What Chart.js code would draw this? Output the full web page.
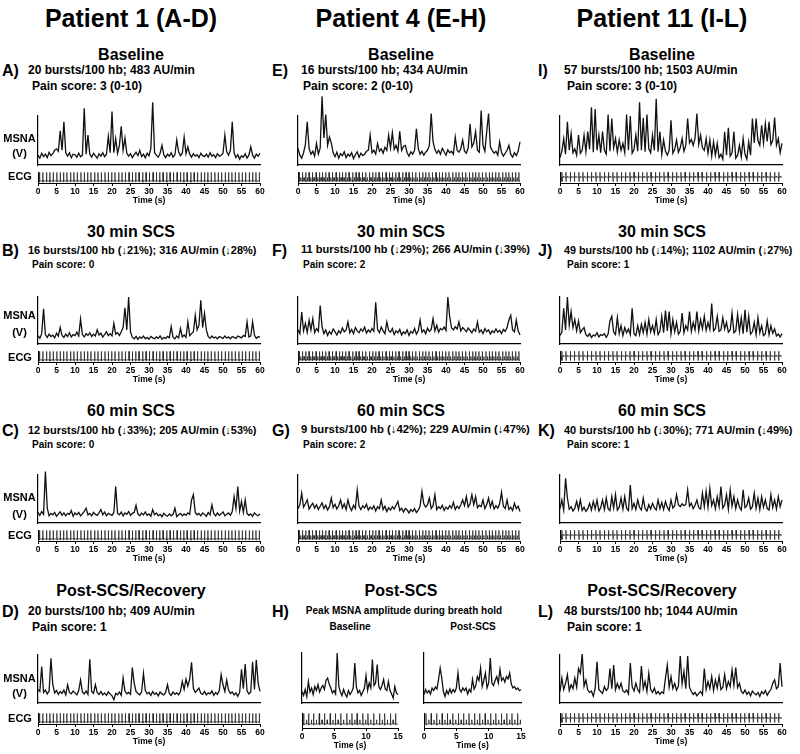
<!DOCTYPE html>
<html>
<head>
<meta charset="utf-8">
<script src="https://cdn.jsdelivr.net/npm/chart.js@4.4.1/dist/chart.umd.min.js"></script>
<style>
  body { margin: 0; background: #fff; }
  #fig { position: relative; width: 800px; height: 754px; overflow: hidden;
         font-family: "Liberation Sans", Arial, Helvetica, sans-serif; font-weight: bold; color: #000; }
  .t { position: absolute; white-space: nowrap; line-height: 1; transform: translateY(-50%); }
  .t.c { transform: translate(-50%, -50%); }
  canvas { position: absolute; }
</style>
</head>
<body>
<div id="fig"></div>
<script>
// ---- MSNA traces, one value every 0.5 s (0-60 s), 0 = x axis, 100 = top of y axis
const msnaA = [20,14,24,17,22,15,26,19,23,30, 33,28,70,30,88,25,18,25,15,22, 21,16,24,17,20,116,22,61,22,16,
  24,19,14,23,18,25,17,22,59,25, 109,25,54,24,40,79,30,55,24,18, 23,15,21,26,19,30,17,22,15,24,
  19,34,128,25,20,16,24,40,21,15, 22,18,25,16,21,51,27,19,24,57, 23,37,22,16,23,18,21,15,24,19,
  17,22,16,25,18,21,15,23,18,20, 24,61,27,20,30,88,25,15,21,12, 19,16,23,14,20,37,20,14,22,18, 24];
const msnaB = [18,12,22,75,20,14,21,16,19,13, 23,17,35,18,14,21,16,24,15,20, 18,25,17,53,20,15,22,18,24,16,
  21,17,30,19,23,15,20,26,18,22, 17,44,21,24,18,26,35,77,30,100, 26,14,11,16,10,15,12,17,11,14,
  10,16,13,11,15,12,17,10,14,12, 16,13,37,14,11,17,13,33,15,19, 14,47,18,22,26,61,30,40,93,35,
  65,30,16,12,17,13,15,11,16,14, 12,17,13,15,11,16,14,12,17,15, 13,18,16,47,15,17,47,19,12,16, 14];
const msnaC = [22,16,24,18,107,31,15,20,17,22, 14,19,23,16,21,15,20,18,26,14, 21,17,22,15,19,24,31,17,20,15,
  22,18,16,21,28,17,23,15,20,18, 16,22,76,20,17,23,15,21,18,24, 16,20,22,37,19,15,21,17,23,16,
  19,14,28,17,21,15,18,13,20,16, 14,19,15,18,31,13,17,20,15,19, 16,21,18,48,59,22,17,20,15,21,
  18,14,22,17,38,20,15,21,16,19, 23,15,18,21,16,24,55,30,76,25, 45,22,48,20,16,19,14,21,17,15, 19];
const msnaD = [28,24,76,22,27,19,25,93,38,21, 26,18,24,20,27,17,38,22,19,25, 21,17,26,48,23,19,25,18,91,24,
  20,38,22,18,24,17,21,16,23,19, 15,7,20,17,23,16,52,25,19,22, 18,74,41,24,20,17,23,62,26,19,
  22,16,24,18,21,15,23,19,17,22, 38,20,16,23,18,21,17,24,45,28, 50,35,50,85,30,22,26,31,20,18,
  24,17,21,19,25,16,22,18,26,59, 38,24,48,27,20,23,17,21,14,22, 70,30,81,25,19,23,86,28,90,41, 24];
const msnaE = [34,20,14,25,42,88,34,22,28,18, 44,22,35,140,55,103,40,57,45,25, 17,26,14,23,19,27,15,22,18,25,
  13,21,27,16,24,19,22,28,30,61, 25,30,22,44,28,33,24,36,30,61, 35,66,32,40,28,69,30,38,40,25,
  18,27,22,30,74,34,22,28,20,26, 30,40,105,47,32,24,30,22,34,27, 20,31,25,28,22,57,30,26,33,51,
  28,24,35,84,37,45,68,30,26,111, 40,28,68,105,37,30,24,28,20,47, 26,18,24,30,40,22,16,25,19,28, 47];
const msnaF = [30,22,68,28,44,25,51,30,54,24, 33,27,82,37,22,30,18,27,21,32, 26,19,28,23,34,26,30,47,24,31,
  22,35,28,24,32,27,36,23,30,25, 33,27,89,31,24,36,28,22,47,29, 25,33,20,28,24,31,19,26,22,30,
  18,27,23,33,21,28,51,25,30,22, 34,27,31,54,28,40,25,33,30,36, 29,100,58,34,30,37,32,47,28,35,
  31,26,34,29,24,32,27,47,25,30, 22,33,26,30,21,28,24,32,25,29, 22,31,27,35,51,61,30,26,51,28, 19];
const msnaG = [30,38,62,33,40,48,29,36,41,31, 38,28,35,42,30,37,27,34,52,32, 39,29,36,48,31,40,28,48,33,26,
  37,30,69,35,28,36,31,39,27,33, 29,36,25,34,30,48,28,35,24,32, 27,34,29,37,45,26,31,23,30,27,
  21,28,24,30,22,27,35,66,40,33, 38,52,30,36,59,28,34,30,37,26, 33,29,36,31,43,28,35,30,38,48,
  36,55,33,40,59,38,55,32,37,34, 48,30,38,52,33,45,29,36,31,40, 64,35,30,48,28,33,26,41,30,35, 24];
const msnaI = [15,28,54,22,88,30,64,25,33,20, 61,24,30,61,27,68,32,118,26,114, 30,61,25,68,30,22,103,28,95,35,
  54,26,51,30,44,25,103,30,100,24, 32,61,28,128,30,96,27,103,33,25, 61,30,135,27,68,22,51,28,20,30,
  91,24,32,51,26,35,54,28,40,95, 45,52,40,55,105,42,61,35,30,54, 24,51,18,47,20,44,15,22,12,68,
  20,76,18,25,68,14,20,40,16,54, 22,12,47,20,95,45,95,50,40,81, 45,84,48,88,42,50,97,40,54,25, 44];
const msnaJ = [18,25,76,30,100,40,69,35,52,28, 49,24,30,35,20,16,22,14,19,17, 24,15,20,18,22,14,21,49,59,25,
  20,56,22,39,18,35,24,32,20,76, 22,18,39,20,42,24,46,21,52,26, 39,23,52,20,27,59,24,71,28,69,
  22,52,26,46,21,27,66,24,39,30, 69,27,46,30,69,28,52,32,59,29, 46,31,86,28,33,59,27,30,56,32,
  46,25,30,66,24,28,63,27,56,22, 73,25,59,21,26,46,20,56,24,39, 18,22,49,20,39,23,32,17,21,15, 22];
const msnaK = [30,48,27,93,52,29,34,25,31,45, 28,48,26,33,24,30,41,27,45,29, 48,25,32,48,28,52,30,26,55,31,
  59,27,33,52,29,55,31,26,79,30, 41,28,48,33,27,52,30,25,38,29, 41,32,27,48,30,43,28,45,33,26,
  48,31,36,59,38,34,40,36,39,69, 35,41,30,37,48,32,29,62,34,66, 33,72,36,48,30,55,34,76,31,38,
  59,29,69,35,55,30,48,33,27,69, 32,36,52,29,34,62,31,52,28,55, 33,48,30,27,59,32,48,29,55,34, 48];
const msnaL = [24,52,28,41,59,26,38,30,52,33, 72,62,102,35,48,27,22,25,14,30, 86,28,24,20,34,26,31,72,30,79,
  28,41,30,41,25,22,27,19,83,34, 25,41,28,22,77,30,45,24,62,28, 22,31,19,24,18,23,20,52,79,33,
  55,30,41,27,35,98,40,66,30,98, 33,24,18,22,15,20,24,17,72,28, 45,30,55,26,48,31,55,28,33,59,
  30,45,34,69,37,74,32,41,24,20, 27,18,23,15,25,20,17,22,14,24, 19,26,16,23,28,41,48,30,34,83, 34];
// Patient 4 breath hold, one value every 0.25 s (0-15 s)
const msnaHBase = [23,15,27,13,43,22,30,17,33,25, 37,22,30,35,27,45,50,38,30,20, 25,18,100,33,22,15,27,18,12,25,
  17,22,30,80,32,20,25,15,22,30, 55,25,40,30,87,35,40,77,33,27, 35,47,28,25,43,25,18,10,33,20, 17];
const msnaHPost = [17,27,20,25,18,30,25,32,28,47, 70,50,23,13,25,18,28,20,27,22, 30,60,28,22,30,25,30,18,27,22,
  47,28,35,53,45,70,33,45,60,30, 40,90,40,35,45,53,40,67,45,50, 42,53,48,60,38,30,33,27,30,25, 27];

// ---- ECG R-wave times (s)
const beatsP1 = [0.4,1.3,2.3,3.2,4.1,5.1,6.0,6.9,7.8,8.8,9.7,10.6,11.6,12.5,13.4,14.3,15.3,16.2,17.1,18.1,
  19.0,19.9,20.8,21.8,22.7,23.6,24.6,25.5,26.4,27.3,28.3,29.2,30.1,31.1,32.0,32.9,33.8,34.8,35.7,36.6,
  37.6,38.5,39.4,40.3,41.3,42.2,43.1,44.1,45.0,45.9,46.8,47.8,48.7,49.6,50.6,51.5,52.4,53.3,54.3,55.2,
  56.1,57.1,58.0,58.9,59.8];
const beatsP4 = [0.3,1.2,2.1,3.0,3.9,4.9,5.8,6.6,7.5,8.4,9.3,10.3,11.2,12.0,12.9,13.8,14.8,15.7,16.5,17.4,
  18.3,19.3,20.2,21.0,21.9,22.8,23.8,24.7,25.5,26.4,27.3,28.3,29.2,30.0,30.9,31.8,32.8,33.7,34.5,35.4,
  36.3,37.3,38.2,39.0,39.9,40.8,41.8,42.7,43.5,44.4,45.3,46.3,47.2,48.0,48.9,49.8,50.8,51.7,52.5,53.4,
  54.3,55.3,56.2,57.0,57.9,58.8,59.7];
const beatsP11 = [0.5,1.6,2.8,3.9,5.1,6.2,7.4,8.5,9.7,10.8,12.0,13.1,14.3,15.4,16.6,17.7,18.9,20.0,21.2,22.3,
  23.5,24.6,25.8,26.9,28.1,29.2,30.4,31.5,32.7,33.8,35.0,36.1,37.3,38.4,39.6,40.7,41.9,43.0,44.2,45.3,
  46.5,47.6,48.8,49.9,51.1,52.2,53.4,54.5,55.7,56.8,58.0,59.1];
const beatsHBase = [0.26,1.03,1.81,2.69,3.5,4.4,5.2,6.05,7.0,7.8,8.6,9.5,10.3,11.2,12.1,12.9,13.8,14.6];
const beatsHPost = [0.3,1.1,1.95,2.8,3.6,4.45,5.3,6.1,6.95,7.8,8.6,9.45,10.3,11.1,11.95,12.8,13.6,14.45];

// ECG beat shapes: [offset from R wave (s), amplitude]
const shapeP1 = [[-0.04,0],[0,1],[0.04,-0.15],[0.08,0]];
const shapeP4 = [[-0.04,0],[0,1],[0.04,-0.1],[0.08,0],[0.4,0],[0.44,0.4],[0.48,0]];
const shapeP11 = [[-0.04,0],[0,1],[0.04,-0.9],[0.08,0],[0.35,0],[0.42,0.15],[0.5,0]];

const FONT = '"Liberation Sans", Arial, Helvetica, sans-serif';
Chart.defaults.font.family = FONT;
Chart.defaults.color = '#000';

const fig = document.getElementById('fig');

function addText(str, x, y, size, center, fitWidth) {
  const el = document.createElement('div');
  el.className = center ? 't c' : 't';
  el.style.left = x + 'px';
  el.style.top = y + 'px';
  el.style.fontSize = size + 'px';
  el.textContent = str;
  fig.appendChild(el);
  if (fitWidth) el.style.fontSize = (size * fitWidth / el.offsetWidth).toFixed(2) + 'px';
}

function makeCanvas(left, top, w, h) {
  const cv = document.createElement('canvas');
  cv.width = w; cv.height = h;
  cv.style.left = left + 'px';
  cv.style.top = top + 'px';
  fig.appendChild(cv);
  return cv;
}

const PAD_X = 8;

function addMsna(values, step, duration, x0, x1, top, base) {
  const padTop = 26;
  const cv = makeCanvas(x0 - PAD_X, top - padTop, x1 - x0 + 2 * PAD_X, base - top + padTop + 2);
  new Chart(cv, {
    type: 'line',
    data: {
      datasets: [{
        data: values.map((v, i) => ({ x: i * step, y: v })),
        borderColor: '#111', borderWidth: 1.3, pointRadius: 0, tension: 0, clip: false
      }]
    },
    options: {
      responsive: false, animation: false, events: [],
      layout: { autoPadding: false, padding: { left: PAD_X, right: PAD_X, top: padTop, bottom: 2 } },
      plugins: { legend: { display: false }, tooltip: { enabled: false } },
      scales: {
        x: { type: 'linear', min: 0, max: duration, ticks: { display: false },
             grid: { display: false, drawTicks: false }, border: { color: '#000', width: 1.2 } },
        y: { min: 0, max: 100, ticks: { display: false },
             grid: { display: false, drawTicks: false }, border: { color: '#000', width: 1.2 } }
      }
    }
  });
}

function addEcg(beats, shape, duration, x0, x1, top, h, yMin, yMax) {
  const pts = [{ x: 0, y: 0 }];
  beats.forEach(t => shape.forEach(([dt, v]) => {
    if (t + dt >= 0 && t + dt <= duration) pts.push({ x: t + dt, y: v });
  }));
  pts.push({ x: duration, y: 0 });
  const axisH = 23;
  const cv = makeCanvas(x0 - PAD_X, top - 2, x1 - x0 + 2 * PAD_X, h + axisH + 3);
  new Chart(cv, {
    type: 'line',
    data: { datasets: [{ data: pts, borderColor: '#222', borderWidth: 0.75, pointRadius: 0, tension: 0 }] },
    options: {
      responsive: false, animation: false, events: [],
      layout: { autoPadding: false, padding: { left: PAD_X, right: PAD_X, top: 2, bottom: 1 } },
      plugins: { legend: { display: false }, tooltip: { enabled: false } },
      scales: {
        x: {
          type: 'linear', min: 0, max: duration,
          ticks: { stepSize: 5, autoSkip: false, maxRotation: 0, padding: 1,
                   font: { size: 8.5, weight: 'bold' }, color: '#000' },
          grid: { display: true, drawOnChartArea: false, drawTicks: true, tickLength: 3, color: '#000' },
          border: { color: '#000', width: 1 },
          title: { display: true, text: 'Time (s)', font: { size: 8.5, weight: 'bold' },
                   padding: { top: 0, bottom: 0 }, color: '#000' },
          afterFit: s => { s.height = axisH; }
        },
        y: { min: yMin, max: yMax, ticks: { display: false },
             grid: { display: false, drawTicks: false }, border: { color: '#000', width: 1 } }
      }
    }
  });
}

// ---- layout
const cols = [
  { x0: 38, x1: 260, mid: 131, lab: 2, info: 28, pain: 32 },
  { x0: 298, x1: 520, mid: 401, lab: 272, info: 301, pain: 303 },
  { x0: 560, x1: 782, mid: 662, lab: 538, info: 564, pain: 567 }
];
const rows = [
  { head: 55, info: 70, pain: 86, top: 116, base: 165, ecgOff: 7, msna: 138, v: 153, ecg: 176 },
  { head: 232, info: 250, pain: 265, top: 297, base: 344, ecgOff: 7, msna: 315, v: 332, ecg: 357 },
  { head: 411, info: 430, pain: 445, top: 475, base: 523, ecgOff: 7, msna: 497, v: 514, ecg: 535 },
  { head: 591, info: 611, pain: 627, top: 655, base: 703, ecgOff: 10, msna: 678, v: 693, ecg: 718 }
];

const titles = ['Patient 1 (A-D)', 'Patient 4 (E-H)', 'Patient 11 (I-L)'];
const headings = [
  ['Baseline', 'Baseline', 'Baseline'],
  ['30 min SCS', '30 min SCS', '30 min SCS'],
  ['60 min SCS', '60 min SCS', '60 min SCS'],
  ['Post-SCS/Recovery', 'Post-SCS', 'Post-SCS/Recovery']
];

const ecgByCol = [
  { beats: beatsP1, shape: shapeP1, yMin: -0.25, yMax: 1.05 },
  { beats: beatsP4, shape: shapeP4, yMin: -0.25, yMax: 1.05 },
  { beats: beatsP11, shape: shapeP11, yMin: -1.2, yMax: 1.05 }
];

const panels = [
  { r: 0, c: 0, id: 'A)', info: '20 bursts/100 hb; 483 AU/min', pain: 'Pain score: 3 (0-10)', msna: msnaA },
  { r: 0, c: 1, id: 'E)', info: '16 bursts/100 hb; 434 AU/min', pain: 'Pain score: 2 (0-10)', msna: msnaE },
  { r: 0, c: 2, id: 'I)', info: '57 bursts/100 hb; 1503 AU/min', pain: 'Pain score: 3 (0-10)', msna: msnaI },
  { r: 1, c: 0, id: 'B)', info: '16 bursts/100 hb (↓21%); 316 AU/min (↓28%)', pain: 'Pain score: 0', msna: msnaB },
  { r: 1, c: 1, id: 'F)', info: '11 bursts/100 hb (↓29%); 266 AU/min (↓39%)', pain: 'Pain score: 2', msna: msnaF },
  { r: 1, c: 2, id: 'J)', info: '49 bursts/100 hb (↓14%); 1102 AU/min (↓27%)', pain: 'Pain score: 1', msna: msnaJ },
  { r: 2, c: 0, id: 'C)', info: '12 bursts/100 hb (↓33%); 205 AU/min (↓53%)', pain: 'Pain score: 0', msna: msnaC },
  { r: 2, c: 1, id: 'G)', info: '9 bursts/100 hb (↓42%); 229 AU/min (↓47%)', pain: 'Pain score: 2', msna: msnaG },
  { r: 2, c: 2, id: 'K)', info: '40 bursts/100 hb (↓30%); 771 AU/min (↓49%)', pain: 'Pain score: 1', msna: msnaK },
  { r: 3, c: 0, id: 'D)', info: '20 bursts/100 hb; 409 AU/min', pain: 'Pain score: 1', msna: msnaD },
  { r: 3, c: 2, id: 'L)', info: '48 bursts/100 hb; 1044 AU/min', pain: 'Pain score: 1', msna: msnaL }
];

titles.forEach((t, c) => addText(t, cols[c].mid, 18, 25, true));
rows.forEach((row, r) => headings[r].forEach((h, c) => addText(h, cols[c].mid, row.head, 16, true)));

panels.forEach(p => {
  const col = cols[p.c], row = rows[p.r], ecg = ecgByCol[p.c];
  const longLine = p.info.includes('(');
  addText(p.id, col.lab, row.info + 1, 16);
  addText(p.info, col.info, row.info, 12, false, longLine ? 229 : 0);
  addText(p.pain, col.pain, row.pain, longLine ? 10 : 12);
  addMsna(p.msna, 0.5, 60, col.x0, col.x1, row.top, row.base);
  addEcg(ecg.beats, ecg.shape, 60, col.x0, col.x1, row.base + row.ecgOff, 11, ecg.yMin, ecg.yMax);
});

// MSNA / ECG labels, first column only
rows.forEach(row => {
  addText('MSNA', 19.5, row.msna, 11, true);
  addText('(V)', 19.5, row.v, 11, true);
  addText('ECG', 20, row.ecg, 11, true);
});

// Panel H: breath hold, baseline vs post-SCS
addText('H)', cols[1].lab, rows[3].info + 1, 16);
addText('Peak MSNA amplitude during breath hold', 404, rows[3].info, 10, true);
addText('Baseline', 350, rows[3].pain, 10, true);
addText('Post-SCS', 473, rows[3].pain, 10, true);
[[msnaHBase, beatsHBase, 302, 398], [msnaHPost, beatsHPost, 424, 521]].forEach(([m, b, x0, x1]) => {
  addMsna(m, 0.25, 15, x0, x1, 653, 703);
  addEcg(b, shapeP4, 15, x0, x1, 713, 15, -0.38, 1.05);
});
</script>
</body>
</html>
